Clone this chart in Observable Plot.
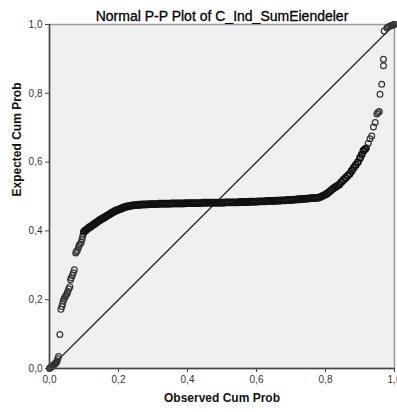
<!DOCTYPE html>
<html>
<head>
<meta charset="utf-8">
<script src="https://cdn.jsdelivr.net/npm/d3@7"></script>
<script src="https://cdn.jsdelivr.net/npm/@observablehq/plot@0.6"></script>
<style>
  html, body { margin: 0; padding: 0; background: #ffffff; overflow: hidden; }
</style>
</head>
<body>
<div id="chart"></div>
<script>
// Text
const titleText = "Normal P-P Plot of C_Ind_SumEiendeler";
const xLabel = "Observed Cum Prob";
const yLabel = "Expected Cum Prob";

// Tick positions and labels
const tickValues = [0, 0.2, 0.4, 0.6, 0.8, 1.0];
const tickLabels = ["0,0", "0,2", "0,4", "0,6", "0,8", "1,0"];

// Reference diagonal (expected = observed) endpoints
const diagonal = [0, 1];

// Points: [observed cum prob, expected cum prob]
const lowerTail = [
  [0.000,0.000],[0.002,0.002],[0.004,0.004],[0.006,0.005],[0.008,0.007],[0.010,0.008],
  [0.012,0.010],[0.014,0.012],[0.016,0.014],[0.018,0.016],[0.020,0.018],[0.022,0.022],
  [0.024,0.028],[0.026,0.035],[0.030,0.099],[0.033,0.172],[0.036,0.180],[0.038,0.188],
  [0.040,0.196],[0.042,0.202],[0.045,0.208],[0.048,0.213],[0.051,0.218],[0.053,0.224],
  [0.056,0.232],[0.059,0.238],[0.061,0.258],[0.063,0.264],[0.066,0.270],[0.069,0.278],
  [0.072,0.287],[0.076,0.336],[0.078,0.340],[0.081,0.344],[0.084,0.352],[0.086,0.358],
  [0.089,0.362],[0.092,0.367],[0.094,0.375],[0.096,0.384],[0.098,0.391]
];
const risingBand = [
  [0.100,0.398],[0.105,0.402],[0.110,0.406],[0.115,0.410],[0.120,0.413],[0.125,0.417],
  [0.130,0.420],[0.135,0.424],[0.140,0.427],[0.145,0.431],[0.150,0.434],[0.155,0.437],
  [0.160,0.440],[0.165,0.443],[0.170,0.446],[0.175,0.449],[0.180,0.452],[0.185,0.455],
  [0.190,0.458],[0.195,0.460],[0.200,0.462],[0.205,0.464],[0.210,0.466],[0.215,0.468],
  [0.220,0.470],[0.225,0.471],[0.230,0.472],[0.235,0.473],[0.240,0.474],[0.246,0.475],
  [0.252,0.475],[0.258,0.476],[0.264,0.476]
];
const flatBand = [
  [0.270,0.477],[0.276,0.477],[0.282,0.477],[0.288,0.478],[0.294,0.478],[0.300,0.478],
  [0.306,0.478],[0.312,0.478],[0.318,0.479],[0.324,0.479],[0.330,0.479],[0.336,0.479],
  [0.342,0.479],[0.348,0.479],[0.354,0.480],[0.360,0.480],[0.366,0.480],[0.372,0.480],
  [0.378,0.480],[0.384,0.480],[0.390,0.480],[0.396,0.481],[0.402,0.481],[0.408,0.481],
  [0.414,0.481],[0.420,0.481],[0.426,0.481],[0.432,0.481],[0.438,0.481],[0.444,0.482],
  [0.450,0.482],[0.456,0.482],[0.462,0.482],[0.468,0.482],[0.474,0.482],[0.480,0.482],
  [0.486,0.482],[0.492,0.482],[0.498,0.482],[0.504,0.482],[0.510,0.483],[0.516,0.483],
  [0.522,0.483],[0.528,0.483],[0.534,0.483],[0.540,0.483],[0.546,0.483],[0.552,0.484],
  [0.558,0.484],[0.564,0.484],[0.570,0.484],[0.576,0.484],[0.582,0.485],[0.588,0.485],
  [0.594,0.485],[0.600,0.485],[0.606,0.486],[0.612,0.486],[0.618,0.486],[0.624,0.486],
  [0.630,0.487],[0.636,0.487],[0.642,0.487],[0.648,0.487],[0.654,0.488],[0.660,0.488],
  [0.666,0.488],[0.672,0.489],[0.678,0.489],[0.684,0.489],[0.690,0.490],[0.696,0.490],
  [0.702,0.490],[0.708,0.491],[0.714,0.491],[0.720,0.492],[0.726,0.492],[0.732,0.493],
  [0.738,0.493],[0.744,0.494],[0.750,0.494],[0.756,0.495],[0.762,0.495],[0.768,0.496],
  [0.774,0.496]
];
const upperBend = [
  [0.780,0.497],[0.786,0.499],[0.792,0.502],[0.798,0.505],[0.804,0.508],[0.810,0.513],
  [0.816,0.518],[0.822,0.523],[0.828,0.527],[0.834,0.531],[0.840,0.535],[0.846,0.542],
  [0.852,0.548],[0.858,0.554],[0.864,0.560],[0.870,0.566],[0.876,0.575],[0.882,0.584],
  [0.888,0.592],[0.894,0.600],[0.900,0.612],[0.905,0.622],[0.910,0.633],[0.915,0.638]
];
const upperTail = [
  [0.919,0.642],[0.924,0.655],[0.929,0.668],[0.934,0.676],[0.939,0.702],[0.944,0.715],
  [0.949,0.740],[0.952,0.744],[0.956,0.747],[0.958,0.797],[0.963,0.826],[0.968,0.880],
  [0.968,0.899],[0.970,0.981],[0.978,0.990],[0.982,0.993],[0.986,0.995],[0.990,0.997],
  [0.994,0.998],[0.997,0.999],[1.000,1.000]
];

const toRows = arr => arr.map(([observed, expected]) => ({observed, expected}));
const tailPoints = toRows([...lowerTail, ...upperTail]);
const bandPoints = toRows([...risingBand, ...flatBand, ...upperBend]);

const font = "'Liberation Sans', Arial, sans-serif";
const fmt = d => tickLabels[tickValues.indexOf(d)];

const chart = Plot.plot({
  width: 397,
  height: 412,
  marginLeft: 49,
  marginRight: 3,
  marginTop: 24,
  marginBottom: 44,
  style: {fontFamily: font, background: "#ffffff", color: "#222"},
  x: {domain: [0, 1], ticks: tickValues, tickFormat: fmt},
  y: {domain: [0, 1], ticks: tickValues, tickFormat: fmt},
  marks: [
    Plot.frame({fill: "#f0f0f0", stroke: "#9a9a9a", strokeWidth: 1.5}),
    Plot.line(diagonal, {x: d => d, y: d => d, stroke: "#222", strokeWidth: 1.2}),
    Plot.dot(tailPoints, {x: "observed", y: "expected", r: 2.9, stroke: "#333", strokeWidth: 1.2, fill: "none"}),
    Plot.dot(bandPoints, {x: "observed", y: "expected", r: 3.0, stroke: "#111", strokeWidth: 1.8, fill: "none"}),
    Plot.ruleX([0], {stroke: "#444", strokeWidth: 1.5}),
    Plot.ruleY([0], {stroke: "#444", strokeWidth: 1.5}),
    Plot.axisX({ticks: tickValues, tickFormat: fmt, tickSize: 4, tickPadding: 3, fontSize: 10, label: null, stroke: "#444", fill: "#333"}),
    Plot.axisY({ticks: tickValues, tickFormat: fmt, tickSize: 4, tickPadding: 3, fontSize: 10, label: null, stroke: "#444", fill: "#333"}),
    Plot.text([titleText], {frameAnchor: "top", dy: -13, fontSize: 14, fill: "#000", stroke: "#000", strokeWidth: 0.3, fontFamily: font}),
    Plot.text([xLabel], {frameAnchor: "bottom", dy: 33, fontSize: 12, fontWeight: "bold", fill: "#111", fontFamily: font}),
    Plot.text([yLabel], {frameAnchor: "left", dx: -32, rotate: -90, fontSize: 12, fontWeight: "bold", fill: "#111", fontFamily: font})
  ]
});
document.getElementById("chart").appendChild(chart);
</script>
</body>
</html>
